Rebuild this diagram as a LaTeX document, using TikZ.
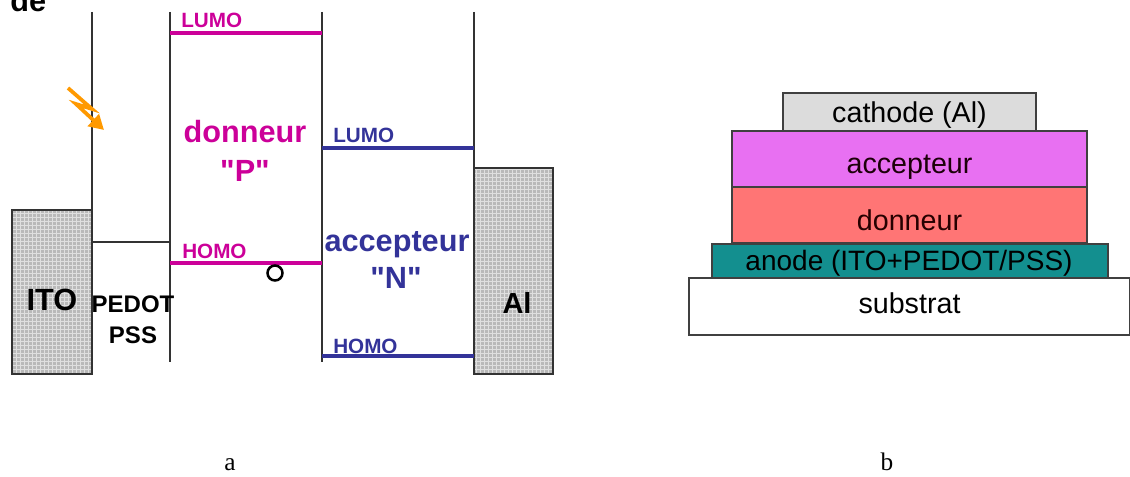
\documentclass[tikz,border=0pt]{standalone}
\usepackage{fontspec}
\setmainfont{Liberation Serif}
\newfontfamily\arial{Liberation Sans}
\usetikzlibrary{patterns,arrows.meta}
\definecolor{pinkP}{HTML}{CC0099}
\definecolor{blueN}{HTML}{333399}
\definecolor{orangeA}{HTML}{FF9900}
\definecolor{cathodeC}{HTML}{DCDCDC}
\definecolor{accC}{HTML}{E870F2}
\definecolor{donC}{HTML}{FF7575}
\definecolor{anodeC}{HTML}{138F8F}
\begin{document}
\begin{tikzpicture}[x=0.75pt,y=-0.75pt,
  vline/.style={line width=1.1pt, draw=black!80},
  lvlP/.style={line width=2.5pt, draw=pinkP},
  lvlN/.style={line width=2.5pt, draw=blueN},
  lbl/.style={font=\arial\bfseries\fontsize{15.5}{18}\selectfont, inner sep=0, anchor=base west},
  big/.style={font=\arial\bfseries\fontsize{23}{26}\selectfont, inner sep=0, anchor=base},
  mid/.style={font=\arial\bfseries\fontsize{18}{21}\selectfont, inner sep=0, anchor=base},
  metalfill/.style={fill=gray!55},
  metalgrid/.style={pattern=grid, pattern color=gray!25},
  layer/.style={draw=black!75, line width=1pt},
  ltxt/.style={font=\arial\fontsize{21.5}{24}\selectfont, inner sep=0, anchor=base},
  captxt/.style={font=\fontsize{19}{22}\selectfont, inner sep=0, anchor=base}]
\useasboundingbox (0,0) rectangle (1130,477);
% clipped text at the top
\node[big, anchor=base west] (de) at (10,12) {de};
% ---------- panel a ----------
% metal electrodes
\fill[metalfill] (12,210) rectangle (92,374);
\fill[metalgrid] (12,210) rectangle (92,374);
\draw[vline] (12,210) rectangle (92,374);
\fill[metalfill] (474,168) rectangle (553,374);
\fill[metalgrid] (474,168) rectangle (553,374);
\draw[vline] (474,168) rectangle (553,374);
% vertical lines
\draw[vline] (92,12) -- (92,210);
\draw[vline] (92,242) -- (170,242);
\draw[vline] (170,12) -- (170,362);
\draw[vline] (322,12) -- (322,362);
\draw[vline] (474,12) -- (474,168);
% energy levels
\draw[lvlP] (170,33) -- (322,33);
\draw[lvlP] (170,263) -- (322,263);
\draw[lvlN] (322,148) -- (474,148);
\draw[lvlN] (322,356) -- (474,356);
% labels
\node[lbl, text=pinkP] (lumoP) at (181,28) {LUMO};
\node[lbl, text=pinkP] (homoP) at (182,258) {HOMO};
\node[lbl, text=blueN] (lumoN) at (333,143) {LUMO};
\node[lbl, text=blueN] (homoN) at (333,353) {HOMO};
\node[big, text=pinkP] (don) at (245,143) {donneur};
\node[big, text=pinkP] (donP) at (245,182) {"P"};
\node[big, text=blueN] (acc) at (397,251) {accepteur};
\node[big, text=blueN] (accN) at (396,288) {"N"};
\node[big] (ito) at (52,310) {ITO};
\node[mid] (pedot) at (133,312) {PEDOT};
\node[mid] (pss) at (133,343) {PSS};
\node[big, font=\arial\bfseries\fontsize{21.75}{25}\selectfont] (al) at (517,313) {Al};
% hole
\draw[line width=1.9pt] (275,273) circle[radius=7.5];
% light
\draw[orangeA, line width=2.8pt, line join=miter, -{Triangle[length=11pt,width=12pt]}]
  (68,88) -- (92,109) -- (76,104) -- (104,130);
% ---------- panel b ----------
\draw[layer] (689,278) rectangle (1130,335);
\draw[layer, fill=anodeC] (712,244) rectangle (1108,278);
\draw[layer, fill=donC] (732,187) rectangle (1087,243);
\draw[layer, fill=accC] (732,131) rectangle (1087,187);
\draw[layer, fill=cathodeC] (783,93) rectangle (1036,131);
\node[ltxt] (cath) at (909.5,123) {cathode (Al)};
\node[ltxt, text=black!85!purple] (accb) at (909.5,174) {accepteur};
\node[ltxt, text=black!85!red] (donb) at (909.5,230) {donneur};
\node[ltxt, font=\arial\fontsize{21}{24}\selectfont] (anode) at (909,270) {anode (ITO+PEDOT/PSS)};
\node[ltxt] (sub) at (909.5,313) {substrat};
% captions
\node[captxt] (capa) at (230,470) {a};
\node[captxt] (capb) at (887,470) {b};
\end{tikzpicture}
\end{document}
